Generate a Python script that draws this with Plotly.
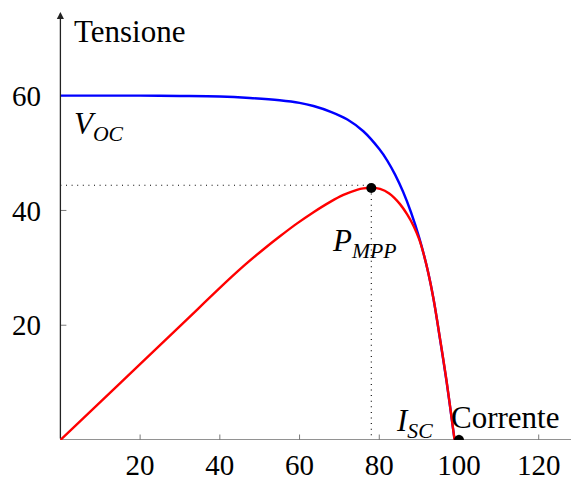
import plotly.graph_objects as go

# Voltage vs. current (blue) and scaled power curve (red)
current_v = [0, 10, 20, 30, 40, 47.5, 55, 60, 63.5, 68, 72, 76, 80, 82, 84, 86, 88, 90, 92, 93.6, 95.3, 96.9, 98.6, 98.9]
voltage = [60, 60, 60, 59.95, 59.85, 59.6, 59.2, 58.75, 58.2, 57.15, 55.85, 53.8, 50.7, 48.7, 46.2, 43.2, 39.6, 35.3, 30.0, 24.6, 17.3, 10.1, 1.5, 0]

current_p = [0, 15, 30, 42.6, 46.5, 50.9, 55, 59.3, 63.5, 67.7, 71, 74.4, 76, 78, 80.2, 82.5, 85.2, 87, 88.6, 90, 91.1, 92.3, 93.6, 95.3, 96.9, 98.6, 98.9]
power = [0, 9.93, 19.86, 28.2, 30.65, 33.2, 35.45, 37.7, 39.7, 41.5, 42.7, 43.6, 43.85, 43.95, 43.75, 42.95, 41.1, 39.3, 37.3, 35.0, 32.5, 29.1, 24.6, 17.4, 10.2, 1.5, 0]

mpp_point = (78, 43.9)
mpp_guide = (78, 44.4)
isc_point = (100, 0)

x_ticks = [20, 40, 60, 80, 100, 120]
y_ticks = [20, 40, 60]

X_MAX = 128.1
Y_MAX = 75.8
Y_ARROW = 74.6

FONT = "Liberation Serif, DejaVu Serif, serif"
FS = 29
FS_LABEL = 31

fig = go.Figure()

fig.add_trace(go.Scatter(
    x=current_v, y=voltage, mode="lines",
    line=dict(color="#0000ff", width=2.4, shape="spline", smoothing=1.0),
    cliponaxis=True, hoverinfo="skip"))
fig.add_trace(go.Scatter(
    x=current_p, y=power, mode="lines",
    line=dict(color="#ff0000", width=2.4, shape="spline", smoothing=1.0),
    cliponaxis=True, hoverinfo="skip"))

# dotted guides to the maximum power point
fig.add_trace(go.Scatter(
    x=[0, mpp_guide[0], mpp_guide[0]], y=[mpp_guide[1], mpp_guide[1], 0],
    mode="lines", line=dict(color="black", width=1.1, dash="1px,4.6px"),
    hoverinfo="skip"))

# marked points
fig.add_trace(go.Scatter(
    x=[mpp_point[0], isc_point[0]], y=[mpp_point[1], isc_point[1]],
    mode="markers", marker=dict(color="black", size=10),
    cliponaxis=True, hoverinfo="skip"))

shapes = []
# x axis line
shapes.append(dict(type="line", xref="x", yref="y", x0=0, x1=X_MAX + 2, y0=0, y1=0,
                   line=dict(color="#6e6e6e", width=1.6), layer="below"))
# tick marks crossing the axes
for t in x_ticks:
    shapes.append(dict(type="line", xref="x", yref="y", x0=t, x1=t,
                       ysizemode="pixel", yanchor=0, y0=-5.5, y1=5.5,
                       line=dict(color="#7a7a7a", width=1), layer="below"))
for t in y_ticks:
    shapes.append(dict(type="line", xref="x", yref="y", y0=t, y1=t,
                       xsizemode="pixel", xanchor=0, x0=-6, x1=6,
                       line=dict(color="#7a7a7a", width=1), layer="below"))

label_font = dict(family=FONT, size=FS_LABEL, color="black")
annotations = [
    # y axis with arrow head
    dict(x=0, y=Y_ARROW, ax=0, ay=0, xref="x", yref="y", axref="x", ayref="y",
         text="", showarrow=True, arrowhead=2, arrowsize=1.1, arrowwidth=1.3,
         arrowcolor="#222222", standoff=0),
    dict(x=3.0, y=71.1, xref="x", yref="y", text="Tensione", showarrow=False,
         xanchor="left", yanchor="middle", font=label_font),
    dict(x=3.0, y=54.7, xref="x", yref="y", text="<i>V</i><sub><i>OC</i></sub>",
         showarrow=False, xanchor="left", yanchor="middle", font=label_font),
    dict(x=67.6, y=34.4, xref="x", yref="y", text="<i>P</i><sub><i>MPP</i></sub>",
         showarrow=False, xanchor="left", yanchor="middle", font=label_font),
    dict(x=83.6, y=2.9, xref="x", yref="y", text="<i>I</i><sub><i>SC</i></sub>",
         showarrow=False, xanchor="left", yanchor="middle", font=label_font),
    dict(x=97.6, y=3.9, xref="x", yref="y", text="Corrente", showarrow=False,
         xanchor="left", yanchor="middle", font=label_font),
]

fig.update_layout(
    width=571, height=481,
    margin=dict(l=60, r=0, t=5, b=41, autoexpand=False),
    paper_bgcolor="white", plot_bgcolor="white",
    showlegend=False,
    shapes=shapes,
    annotations=annotations,
    xaxis=dict(range=[-0.1, X_MAX], tickvals=x_ticks, ticktext=[str(t) for t in x_ticks],
               showgrid=False, zeroline=False, showline=False, ticks="",
               ticklabelstandoff=5, automargin=False,
               tickfont=dict(family=FONT, size=FS, color="black")),
    yaxis=dict(range=[0, Y_MAX], tickvals=y_ticks, ticktext=[str(t) for t in y_ticks],
               showgrid=False, zeroline=False, showline=False, ticks="",
               ticklabelstandoff=18, automargin=False,
               tickfont=dict(family=FONT, size=FS, color="black")),
)

fig.write_html("out.html")
